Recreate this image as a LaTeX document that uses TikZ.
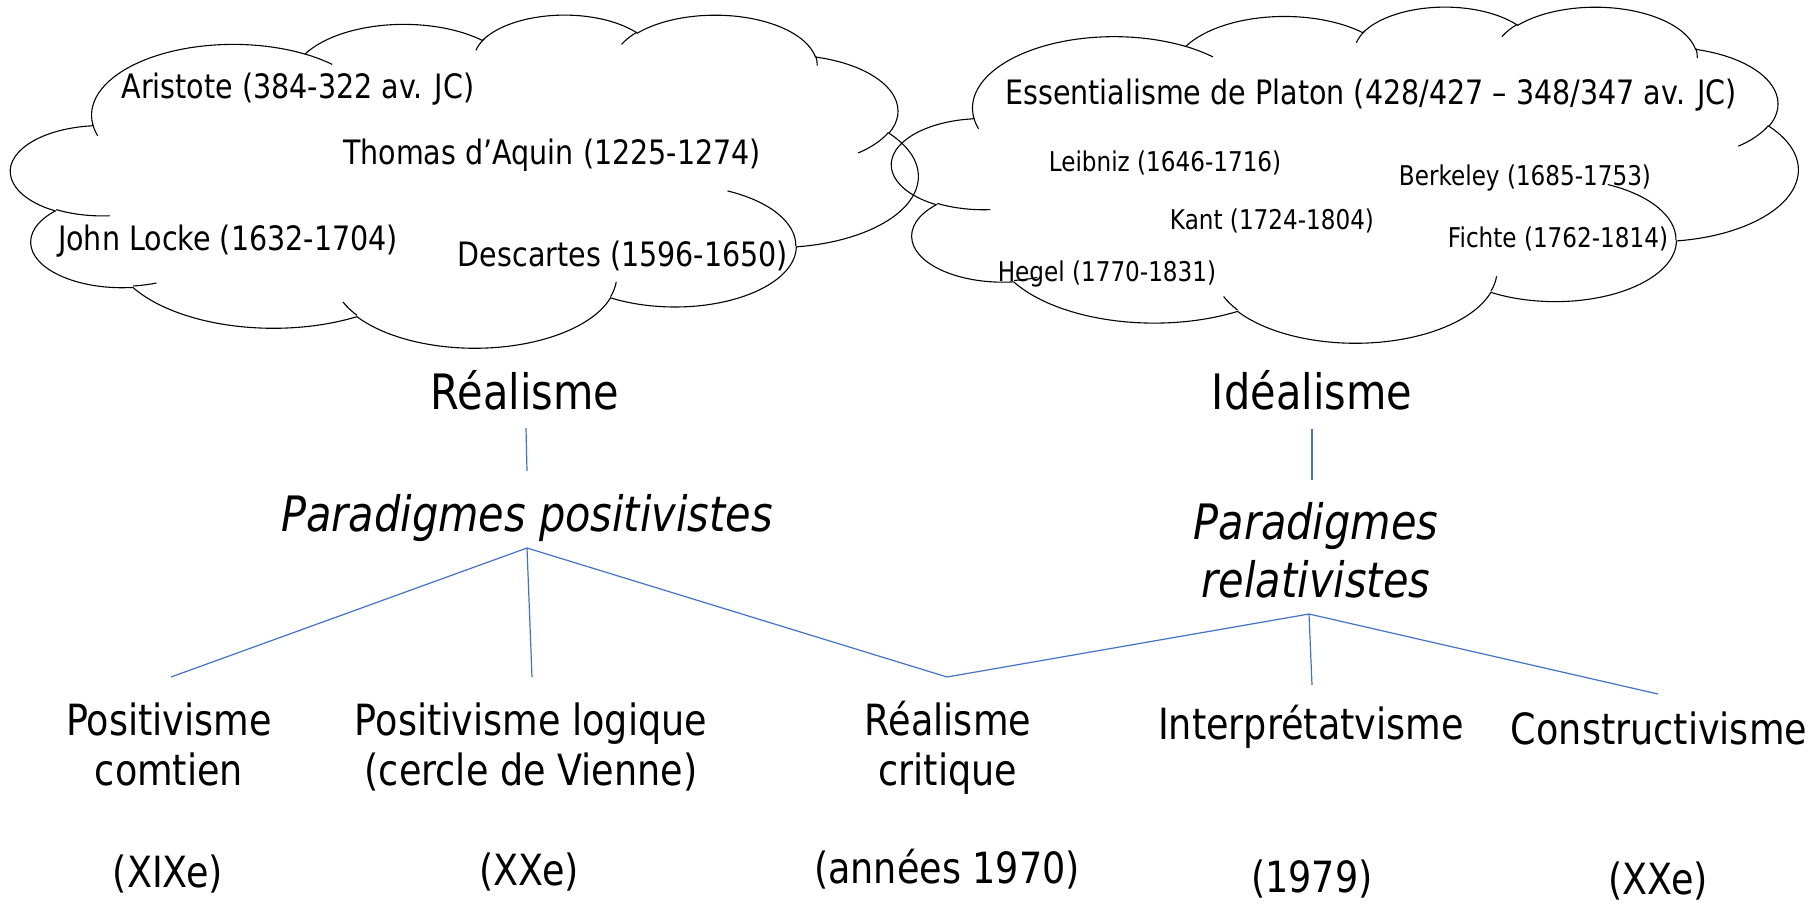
\documentclass[tikz,border=0pt]{standalone}
\usepackage{fontspec}
\setmainfont{DejaVu Sans}[FakeStretch=0.85]
\definecolor{linkblue}{HTML}{4472C4}
\tikzset{
  cloudline/.style={draw=black,line width=.55pt},
  link/.style={draw=linkblue,line width=.6pt},
  philo/.style={font=\fontsize{16.8}{20}\selectfont,anchor=base,inner sep=0pt},
  philosmall/.style={font=\fontsize{13.6}{16}\selectfont,anchor=base,inner sep=0pt},
  heading/.style={font=\fontsize{24.4}{29}\selectfont,anchor=base,inner sep=0pt,align=center},
  branch/.style={font=\fontsize{21.5}{25}\selectfont,anchor=base,inner sep=0pt,align=center},
}
% cloud outline in a 432 x 432 box, placed at #1,#2 with size #3 x #4
\newcommand{\drawcloud}[4]{%
  \begin{scope}[shift={(#1,#2)},xscale=#3/432,yscale=#4/432]
    \draw[cloudline] (39.00,143.70)
      arc[start angle=-187.75,end angle=-59.64,x radius=67.53,y radius=91.90]
      arc[start angle=-152.02,end angle=-45.43,x radius=53.33,y radius=72.67]
      arc[start angle=-153.48,end angle=-37.32,x radius=43.65,y radius=59.45]
      arc[start angle=-139.70,end angle=-10.21,x radius=48.57,y radius=65.95]
      arc[start angle=-74.77,end angle=23.21,x radius=53.33,y radius=72.73]
      arc[start angle=-37.52,end angle=81.86,x radius=67.75,y radius=92.20]
      arc[start angle=0.46,end angle=121.98,x radius=57.85,y radius=78.67]
      arc[start angle=16.84,end angle=146.25,x radius=67.52,y radius=92.15]
      arc[start angle=58.99,end angle=150.20,x radius=77.20,y radius=105.43]
      arc[start angle=-276.69,end angle=-136.90,x radius=43.60,y radius=59.18]
      arc[start angle=-239.64,end angle=-95.89,x radius=43.45,y radius=59.45]
      -- cycle;
    % inner folds
    \draw[cloudline]
      (46.93,261.77) arc[start angle=85.55,end angle=120.36,x radius=43.45,y radius=59.45]
      (69.28,348.99) arc[start angle=68.23,end angle=83.31,x radius=43.60,y radius=59.18]
      (164.78,390.90) arc[start angle=146.25,end angle=158.47,x radius=67.52,y radius=92.15]
      (288.27,347.51) arc[start angle=4.74,end angle=16.84,x radius=67.52,y radius=92.15]
      (341.29,229.54) arc[start angle=-64.03,end angle=0.46,x radius=57.85,y radius=78.67]
      (417.98,153.54) arc[start angle=23.21,end angle=49.63,x radius=53.33,y radius=72.73]
      (383.24,54.26) arc[start angle=-10.21,end angle=0.82,x radius=48.57,y radius=65.95]
      (290.78,39.52) arc[start angle=-156.28,end angle=-139.70,x radius=48.57,y radius=65.95]
      (221.41,47.20) arc[start angle=-167.73,end angle=-152.35,x radius=43.65,y radius=59.45]
      (140.00,51.92) arc[start angle=-59.64,end angle=-45.72,x radius=67.53,y radius=91.90]
      (41.27,157.89) arc[start angle=163.19,end angle=172.25,x radius=67.53,y radius=91.90];
  \end{scope}}

\begin{document}
\begin{tikzpicture}[x=0.5pt,y=-0.5pt]
  \fill[white] (0,0) rectangle (1820,905);
  \useasboundingbox (0,0) rectangle (1820,905);

  % the two clouds
  \drawcloud{11}{14}{907}{333}
  \drawcloud{892}{6}{906}{336}

  % realism cloud
  \node[philo] (aristote) at (298,98) {Aristote (384-322 av. JC)};
  \node[philo] (thomas) at (552,164) {Thomas d’Aquin (1225-1274)};
  \node[philo] (locke) at (228,250) {John Locke (1632-1704)};
  \node[philo] (descartes) at (623,266) {Descartes (1596-1650)};

  % idealism cloud
  \node[philo] (platon) at (1371,104) {Essentialisme de Platon (428/427 – 348/347 av. JC)};
  \node[philosmall] (leibniz) at (1165,171) {Leibniz (1646-1716)};
  \node[philosmall] (berkeley) at (1525,185) {Berkeley (1685-1753)};
  \node[philosmall] (kant) at (1272,229) {Kant (1724-1804)};
  \node[philosmall] (fichte) at (1558,247) {Fichte (1762-1814)};
  \node[philosmall] (hegel) at (1107,281) {Hegel (1770-1831)};

  % headings (base = last line)
  \node[heading] (realisme) at (525,409) {Réalisme};
  \node[heading] (idealisme) at (1312,409) {Idéalisme};
  \node[heading,font=\fontsize{24.4}{29}\selectfont\itshape] (parapos) at (527,531) {Paradigmes positivistes};
  \node[heading,font=\fontsize{24.4}{29}\selectfont\itshape] (pararel) at (1316,597) {Paradigmes\\relativistes};

  % branches
  \node[branch] (comte) at (169,785) {Positivisme\\comtien};
  \node[branch] (vienne) at (531,785) {Positivisme logique\\(cercle de Vienne)};
  \node[branch] (critique) at (948,785) {Réalisme\\critique};
  \node[branch] (interpret) at (1311,739) {Interprétatvisme};
  \node[branch] (construct) at (1659,744) {Constructivisme};

  \node[branch] (datecomte) at (168,887) {(XIXe)};
  \node[branch] (datevienne) at (529,885) {(XXe)};
  \node[branch] (datecritique) at (947,883) {(années 1970)};
  \node[branch] (dateinterpret) at (1312,892) {(1979)};
  \node[branch] (dateconstruct) at (1658,894) {(XXe)};

  % connector ends
  \coordinate (realtop) at (526,428);
  \coordinate (realbot) at (527,471);
  \coordinate (idtop) at (1312,429);
  \coordinate (idbot) at (1312,480);
  \coordinate (posapex) at (527,548);
  \coordinate (relapex) at (1309,614);
  \coordinate (comteend) at (171,677);
  \coordinate (vienneend) at (532,677);
  \coordinate (critend) at (947,677);
  \coordinate (interend) at (1312,685);
  \coordinate (constend) at (1658,694);

  \draw[link] (realtop) -- (realbot);
  \draw[link] (idtop) -- (idbot);
  \draw[link] (posapex) -- (comteend);
  \draw[link] (posapex) -- (vienneend);
  \draw[link] (posapex) -- (critend);
  \draw[link] (relapex) -- (critend);
  \draw[link] (relapex) -- (interend);
  \draw[link] (relapex) -- (constend);
\end{tikzpicture}
\end{document}
